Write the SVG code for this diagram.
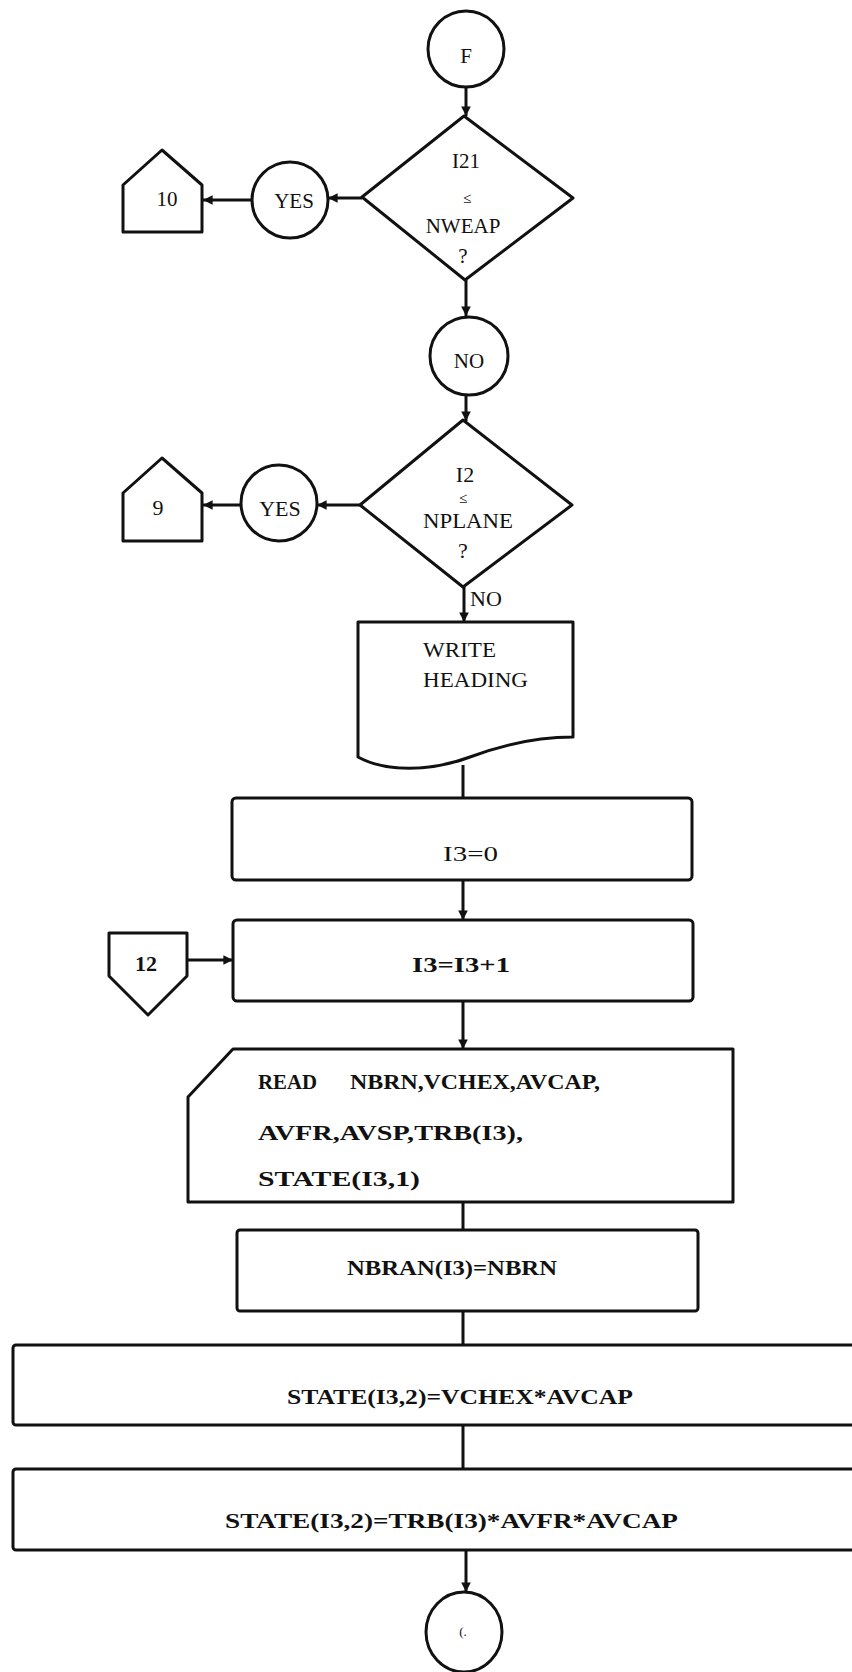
<svg xmlns="http://www.w3.org/2000/svg" width="852" height="1672" viewBox="0 0 852 1672">
<style>
.s{fill:none;stroke:#111;stroke-width:3;stroke-linejoin:round}
.w{fill:#fff;stroke:#111;stroke-width:3;stroke-linejoin:round}
.t{font-family:"Liberation Serif","Times New Roman",serif;font-size:21px;fill:#111;text-anchor:middle}
.m{font-family:"Liberation Serif","Times New Roman",serif;font-size:22px;fill:#111}
.b{font-family:"Liberation Serif","Times New Roman",serif;font-size:22px;font-weight:bold;fill:#111}
.c{stroke:#111;stroke-width:3;fill:none}
</style>
<defs>
<marker id="ah" viewBox="0 0 10 10" refX="10" refY="5" markerWidth="3.2" markerHeight="3.2" orient="auto" markerUnits="strokeWidth">
<path d="M0,0 L10,5 L0,10 Z" fill="#111"/>
</marker>
</defs>
<rect width="852" height="1672" fill="#fff"/>
<g id="connectors">
<line class="c" x1="466" y1="88" x2="466" y2="116" marker-end="url(#ah)"/>
<line class="c" x1="362" y1="198" x2="328" y2="198" marker-end="url(#ah)"/>
<line class="c" x1="252" y1="200" x2="203" y2="200" marker-end="url(#ah)"/>
<line class="c" x1="466" y1="280" x2="466" y2="316" marker-end="url(#ah)"/>
<line class="c" x1="466" y1="396" x2="466" y2="421" marker-end="url(#ah)"/>
<line class="c" x1="360" y1="505" x2="317" y2="505" marker-end="url(#ah)"/>
<line class="c" x1="241" y1="505" x2="203" y2="505" marker-end="url(#ah)"/>
<line class="c" x1="464" y1="587" x2="464" y2="622" marker-end="url(#ah)"/>
<line class="c" x1="463" y1="765" x2="463" y2="798"/>
<line class="c" x1="463" y1="880" x2="463" y2="920" marker-end="url(#ah)"/>
<line class="c" x1="187" y1="960" x2="233" y2="960" marker-end="url(#ah)"/>
<line class="c" x1="463" y1="1001" x2="463" y2="1049" marker-end="url(#ah)"/>
<line class="c" x1="463" y1="1202" x2="463" y2="1230"/>
<line class="c" x1="463" y1="1311" x2="463" y2="1345"/>
<line class="c" x1="463" y1="1425" x2="463" y2="1469"/>
<line class="c" x1="466" y1="1550" x2="466" y2="1592" marker-end="url(#ah)"/>
<text class="m" x="470" y="606">NO</text>
</g>
<g id="nF">
<circle class="w" cx="466" cy="49" r="38"/>
<text class="t" x="466" y="63">F</text>
</g>
<g id="d1">
<polygon class="w" points="464,116 573,198 465,280 362,197"/>
<text class="t" x="466" y="168">I21</text>
<text class="t" x="467" y="203" style="font-size:15px">≤</text>
<text class="t" x="463" y="233">NWEAP</text>
<text class="t" x="463" y="263">?</text>
</g>
<g id="yes1">
<circle class="w" cx="290" cy="200" r="38"/>
<text class="t" x="294" y="208">YES</text>
</g>
<g id="p10">
<polygon class="w" points="123,185 162,150 202,185 202,232 123,232"/>
<text class="t" x="167" y="206">10</text>
</g>
<g id="no1">
<circle class="w" cx="469" cy="356" r="39"/>
<text class="t" x="469" y="368">NO</text>
</g>
<g id="d2">
<polygon class="w" points="463,420 572,505 463,587 360,505"/>
<text class="m" x="465" y="482" text-anchor="middle">I2</text>
<text class="t" x="463" y="503" style="font-size:15px">≤</text>
<text class="m" x="423" y="528" textLength="90" lengthAdjust="spacingAndGlyphs">NPLANE</text>
<text class="m" x="463" y="558" text-anchor="middle">?</text>
</g>
<g id="yes2">
<circle class="w" cx="279" cy="503" r="38"/>
<text class="m" x="280" y="516" text-anchor="middle">YES</text>
</g>
<g id="p9">
<polygon class="w" points="123,493 162,458 202,493 202,541 123,541"/>
<text class="m" x="158" y="515" text-anchor="middle">9</text>
</g>
<g id="doc">
<path class="w" d="M358,622 H573 V737 C545,737 510,742 470,757 C430,772 385,772 358,757 Z"/>
<text class="m" x="423" y="657" textLength="73" lengthAdjust="spacingAndGlyphs">WRITE</text>
<text class="m" x="423" y="687" textLength="105" lengthAdjust="spacingAndGlyphs">HEADING</text>
</g>
<g id="i30">
<rect class="w" x="232" y="798" width="460" height="82" rx="4"/>
<text class="m" x="443" y="861" textLength="55" lengthAdjust="spacingAndGlyphs">I3=0</text>
</g>
<g id="p12">
<polygon class="w" points="109,933 187,933 187,976 148,1015 109,976"/>
<text class="b" x="146" y="971" text-anchor="middle">12</text>
</g>
<g id="i3inc">
<rect class="w" x="233" y="920" width="460" height="81" rx="4"/>
<text class="b" x="412" y="972" textLength="98" lengthAdjust="spacingAndGlyphs">I3=I3+1</text>
</g>
<g id="read">
<path class="w" d="M233,1049 H733 V1202 H188 V1097 Z"/>
<text class="b" x="258" y="1089" textLength="59" lengthAdjust="spacingAndGlyphs">READ</text>
<text class="b" x="350" y="1089" textLength="250" lengthAdjust="spacingAndGlyphs">NBRN,VCHEX,AVCAP,</text>
<text class="b" x="258" y="1140" textLength="265" lengthAdjust="spacingAndGlyphs">AVFR,AVSP,TRB(I3),</text>
<text class="b" x="258" y="1186" textLength="162" lengthAdjust="spacingAndGlyphs">STATE(I3,1)</text>
</g>
<g id="nbran">
<rect class="w" x="237" y="1230" width="461" height="81" rx="3"/>
<text class="b" x="347" y="1275" textLength="210" lengthAdjust="spacingAndGlyphs">NBRAN(I3)=NBRN</text>
</g>
<g id="st1">
<rect class="w" x="13" y="1345" width="890" height="80" rx="3"/>
<text class="b" x="287" y="1404" textLength="346" lengthAdjust="spacingAndGlyphs">STATE(I3,2)=VCHEX*AVCAP</text>
</g>
<g id="st2">
<rect class="w" x="13" y="1469" width="890" height="81" rx="3"/>
<text class="b" x="225" y="1528" textLength="453" lengthAdjust="spacingAndGlyphs">STATE(I3,2)=TRB(I3)*AVFR*AVCAP</text>
</g>
<g id="endc">
<ellipse class="w" cx="464" cy="1632" rx="38" ry="40"/>
<text class="t" x="463" y="1636" style="font-size:13px">(.</text>
</g>
</svg>
